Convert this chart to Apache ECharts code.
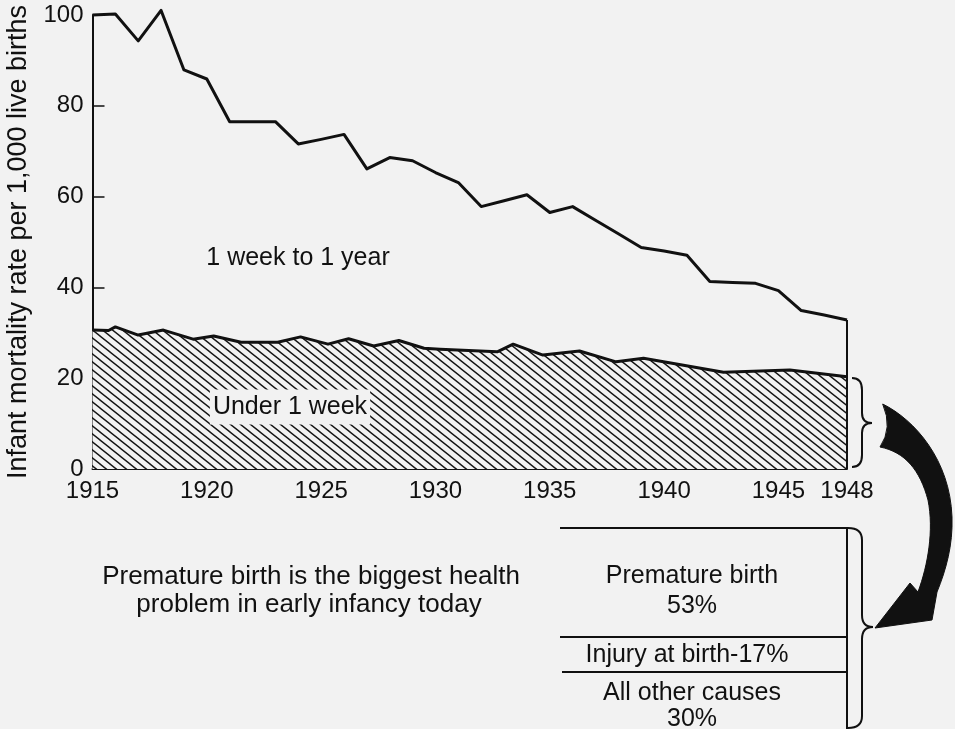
<!DOCTYPE html>
<html>
<head>
<meta charset="utf-8">
<script src="https://cdn.jsdelivr.net/npm/echarts@6/dist/echarts.min.js"></script>
<style>
html,body{margin:0;padding:0;background:#f2f2f2;}
#chart{width:955px;height:729px;}
</style>
</head>
<body>
<div id="chart"></div>
<script>
// ---- data ----
const years = [1915,1916,1917,1918,1919,1920,1921,1922,1923,1924,1925,1926,1927,1928,1929,1930,1931,1932,1933,1934,1935,1936,1937,1938,1939,1940,1941,1942,1943,1944,1945,1946,1947,1948];
const totalRate = [100,100.2,94.3,101,87.9,85.9,76.5,76.5,76.5,71.6,72.6,73.7,66.1,68.6,67.9,65.3,63.1,57.8,59.1,60.4,56.5,57.8,54.8,51.8,48.8,48.0,47.1,41.3,41.1,40.9,39.3,34.9,33.9,32.8];
const underWeekYears = [1915,1915.7,1916,1917,1918.1,1919.4,1920.3,1921.5,1923.1,1924.1,1925.3,1926.2,1927.3,1928.4,1929.5,1930.2,1932.7,1933.4,1934.7,1936.3,1937.9,1939.1,1942.6,1945.5,1948];
const underWeekRate = [30.6,30.5,31.3,29.5,30.6,28.6,29.3,27.9,27.9,29.1,27.5,28.7,27.1,28.3,26.6,26.4,25.8,27.5,25.1,26.0,23.6,24.4,21.3,21.8,20.3];
const xTickLabels = [1915,1920,1925,1930,1935,1940,1945,1948];
const xTickMarks = [1920,1925,1930,1935,1940,1945];
const yTickMarks = [20,40,60,80];
const yAxisTitle = 'Infant mortality rate per 1,000 live births';
const seriesLabels = ['1 week to 1 year', 'Under 1 week'];
const noteLines = ['Premature birth is the biggest health', 'problem in early infancy today'];
const causes = ['Premature birth\n53%', 'Injury at birth-17%', 'All other causes\n30%'];

const FONT = '"Liberation Sans", Arial, sans-serif';
const INK = '#111';

function hatch() {
  const w = 10, h = 8;
  const c = document.createElement('canvas');
  c.width = w; c.height = h;
  const g = c.getContext('2d');
  g.fillStyle = '#f2f2f2';
  g.fillRect(0, 0, w, h);
  g.strokeStyle = '#151515';
  g.lineWidth = 1.4;
  g.beginPath();
  for (const k of [-1, 0, 1]) {
    g.moveTo(k * w - 2.5, -2);
    g.lineTo(k * w + w + 2.5, h + 2);
  }
  g.stroke();
  return c;
}

// decorative shapes (braces and curved arrow)
const shapePaths = {
  braceTop: 'M852,378 Q862,378 862,390 L862,413 Q862,423 872,423 Q862,423 862,433 L862,455 Q862,467 852,467',
  braceTable: 'M848,528 Q862,528 862,540 L862,615 Q862,627 873,627 Q862,627 862,639 L862,716 Q862,728 848,728',
  arrow: 'M882.7,404 C915,420 950,460 952,517 C953,545 946,570 937,592 L932,620 L875,628 L910,583 L918,592 C928,565 934,530 928,500 C920,470 905,452 880,447 Q893,428 882.7,404 Z'
};
Object.keys(shapePaths).forEach(k => {
  echarts.graphic.registerShape(k, echarts.graphic.extendPath(shapePaths[k], {}));
});

const chart = echarts.init(document.getElementById('chart'), null, {renderer: 'canvas'});

function txt(text, x, y, size, extra) {
  return {
    type: 'text', x: x, y: y, z: 100,
    style: Object.assign({
      text: text, fill: INK, font: size + 'px ' + FONT,
      textAlign: 'center', textVerticalAlign: 'middle',
      align: 'center', verticalAlign: 'middle', lineHeight: size + 4
    }, extra || {})
  };
}
function ln(x1, y1, x2, y2, w) {
  return {type: 'line', z: 100, shape: {x1, y1, x2, y2}, style: {stroke: INK, lineWidth: w || 2}};
}

const lastYear = years[years.length - 1];
const lastTotal = totalRate[totalRate.length - 1];

chart.setOption({
  animation: false,
  backgroundColor: '#f2f2f2',
  grid: {left: 92.5, right: 108, top: 15, bottom: 260, containLabel: false, outerBoundsMode: 'none'},
  xAxis: {
    type: 'value', min: 1915, max: 1948, interval: 5,
    axisLine: {show: true, lineStyle: {color: INK, width: 2}},
    axisTick: {show: true, inside: true, length: 9, customValues: xTickMarks, lineStyle: {color: INK, width: 1.5}},
    axisLabel: {show: true, customValues: xTickLabels, color: INK, fontSize: 24, fontFamily: FONT, margin: 10, formatter: v => String(v)},
    splitLine: {show: false}
  },
  yAxis: {
    type: 'value', min: 0, max: 100, interval: 20,
    name: yAxisTitle, nameLocation: 'middle', nameGap: 60,
    nameTextStyle: {color: INK, fontSize: 27, fontFamily: FONT},
    axisLine: {show: true, lineStyle: {color: INK, width: 2}},
    axisTick: {show: true, inside: true, length: 12, customValues: yTickMarks, lineStyle: {color: INK, width: 1.5}},
    axisLabel: {color: INK, fontSize: 24, fontFamily: FONT, margin: 9},
    splitLine: {show: false}
  },
  series: [
    {
      name: seriesLabels[0], type: 'line', clip: false, symbol: 'none', z: 3,
      data: years.map((y, i) => [y, totalRate[i]]),
      lineStyle: {color: INK, width: 3, join: 'round'},
      markLine: {
        silent: true, symbol: 'none', label: {show: false},
        lineStyle: {color: INK, width: 2, type: 'solid'},
        data: [[{coord: [lastYear, 0]}, {coord: [lastYear, lastTotal]}]]
      }
    },
    {
      name: seriesLabels[1], type: 'line', clip: false, symbol: 'none', z: 2,
      data: underWeekYears.map((y, i) => [y, underWeekRate[i]]),
      lineStyle: {color: INK, width: 3, join: 'round'},
      areaStyle: {color: {image: hatch(), repeat: 'repeat'}, opacity: 1}
    }
  ],
  graphic: [
    txt(seriesLabels[0], 298, 258, 25),
    txt(seriesLabels[1], 290, 407, 25, {backgroundColor: '#f2f2f2', padding: [3, 3]}),
    {type: 'braceTop', z: 100, style: {fill: null, stroke: INK, lineWidth: 2}},
    {type: 'arrow', z: 100, style: {fill: INK, stroke: INK, lineWidth: 1}},
    txt(noteLines[0], 311, 577, 26),
    txt(noteLines[1], 309, 605, 26),
    ln(560, 528, 847, 528),
    ln(560, 637, 847, 637),
    ln(562, 672, 847, 672),
    ln(847, 527, 847, 729),
    {type: 'braceTable', z: 100, style: {fill: null, stroke: INK, lineWidth: 2}},
    txt(causes[0], 692, 591, 25, {lineHeight: 30}),
    txt(causes[1], 687, 655, 25),
    txt(causes[2], 692, 706, 25, {lineHeight: 26})
  ]
});
</script>
</body>
</html>
